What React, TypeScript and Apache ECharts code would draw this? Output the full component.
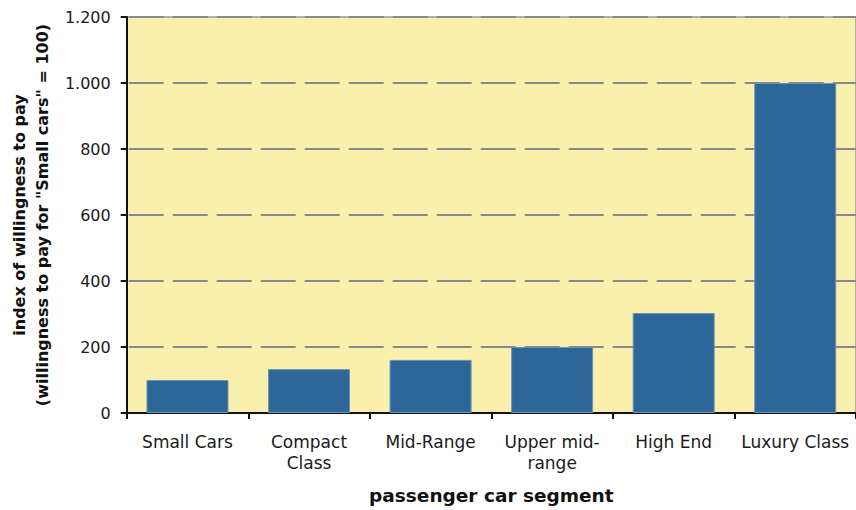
import React, { useEffect, useRef } from "react";
import * as echarts from "echarts";

// Segment names and the willingness-to-pay index (Small Cars = 100)
const categories: string[] = [
  "Small Cars",
  "Compact\nClass",
  "Mid-Range",
  "Upper mid-\nrange",
  "High End",
  "Luxury Class",
];
const indexValues: number[] = [100, 133, 161, 200, 303, 1000];

const yMin = 0;
const yMax = 1200;
const yStep = 200;

const xTitle = "passenger car segment";
const yTitle = 'index of willingness to pay\n(willingness to pay for "Small cars" = 100)';

const FONT = "DejaVu Sans";

// thousands separator as a dot: 1200 -> "1.200"
const fmtThousands = (v: number): string =>
  String(Math.round(v)).replace(/\B(?=(\d{3})+(?!\d))/g, ".");

export default function App() {
  const ref = useRef<HTMLDivElement>(null);

  useEffect(() => {
    if (!ref.current) return;
    const chart = echarts.init(ref.current, null, { renderer: "svg" });
    chart.setOption({
      animation: false,
      backgroundColor: "#ffffff",
      grid: {
        left: 126,
        right: 0,
        top: 17,
        bottom: 96,
        show: true,
        backgroundColor: "#F9F0AD",
        borderColor: "#9a9a9a",
        borderWidth: 1.5,
      },
      xAxis: {
        type: "category",
        data: categories,
        name: xTitle,
        nameLocation: "middle",
        nameGap: 73,
        nameTextStyle: {
          fontFamily: FONT,
          fontSize: 18.5,
          fontWeight: "bold",
          color: "#111",
        },
        axisLine: { show: true, lineStyle: { color: "#111", width: 2 } },
        axisTick: { show: true, length: 6, lineStyle: { color: "#111", width: 2 } },
        axisLabel: {
          fontFamily: FONT,
          fontSize: 17,
          lineHeight: 21,
          color: "#1a1a1a",
          margin: 18,
          interval: 0,
        },
        splitLine: { show: false },
      },
      yAxis: {
        type: "value",
        min: yMin,
        max: yMax,
        interval: yStep,
        name: yTitle,
        nameLocation: "middle",
        nameRotate: 90,
        nameGap: 72,
        nameTextStyle: {
          fontFamily: FONT,
          fontSize: 16,
          fontWeight: "bold",
          lineHeight: 23,
          color: "#111",
          align: "center",
        },
        axisLine: { show: true, lineStyle: { color: "#111", width: 2 } },
        axisTick: { show: true, length: 6, lineStyle: { color: "#111", width: 2 } },
        axisLabel: {
          fontFamily: FONT,
          fontSize: 16,
          color: "#1a1a1a",
          margin: 16,
          formatter: (v: number) => fmtThousands(v),
        },
        splitLine: {
          show: true,
          lineStyle: {
            color: "#8a8a8a",
            width: 2,
            type: [35, 9],
            dashOffset: 42,
          },
        },
      },
      series: [
        {
          type: "bar",
          data: indexValues,
          barWidth: 82,
          itemStyle: {
            color: "#2D6698",
            borderColor: "#6f93b5",
            borderWidth: 1,
          },
        },
      ],
    });
    return () => chart.dispose();
  }, []);

  return (
    <div
      ref={ref}
      style={{ position: "fixed", left: 0, top: 0, width: 856, height: 510 }}
    />
  );
}
